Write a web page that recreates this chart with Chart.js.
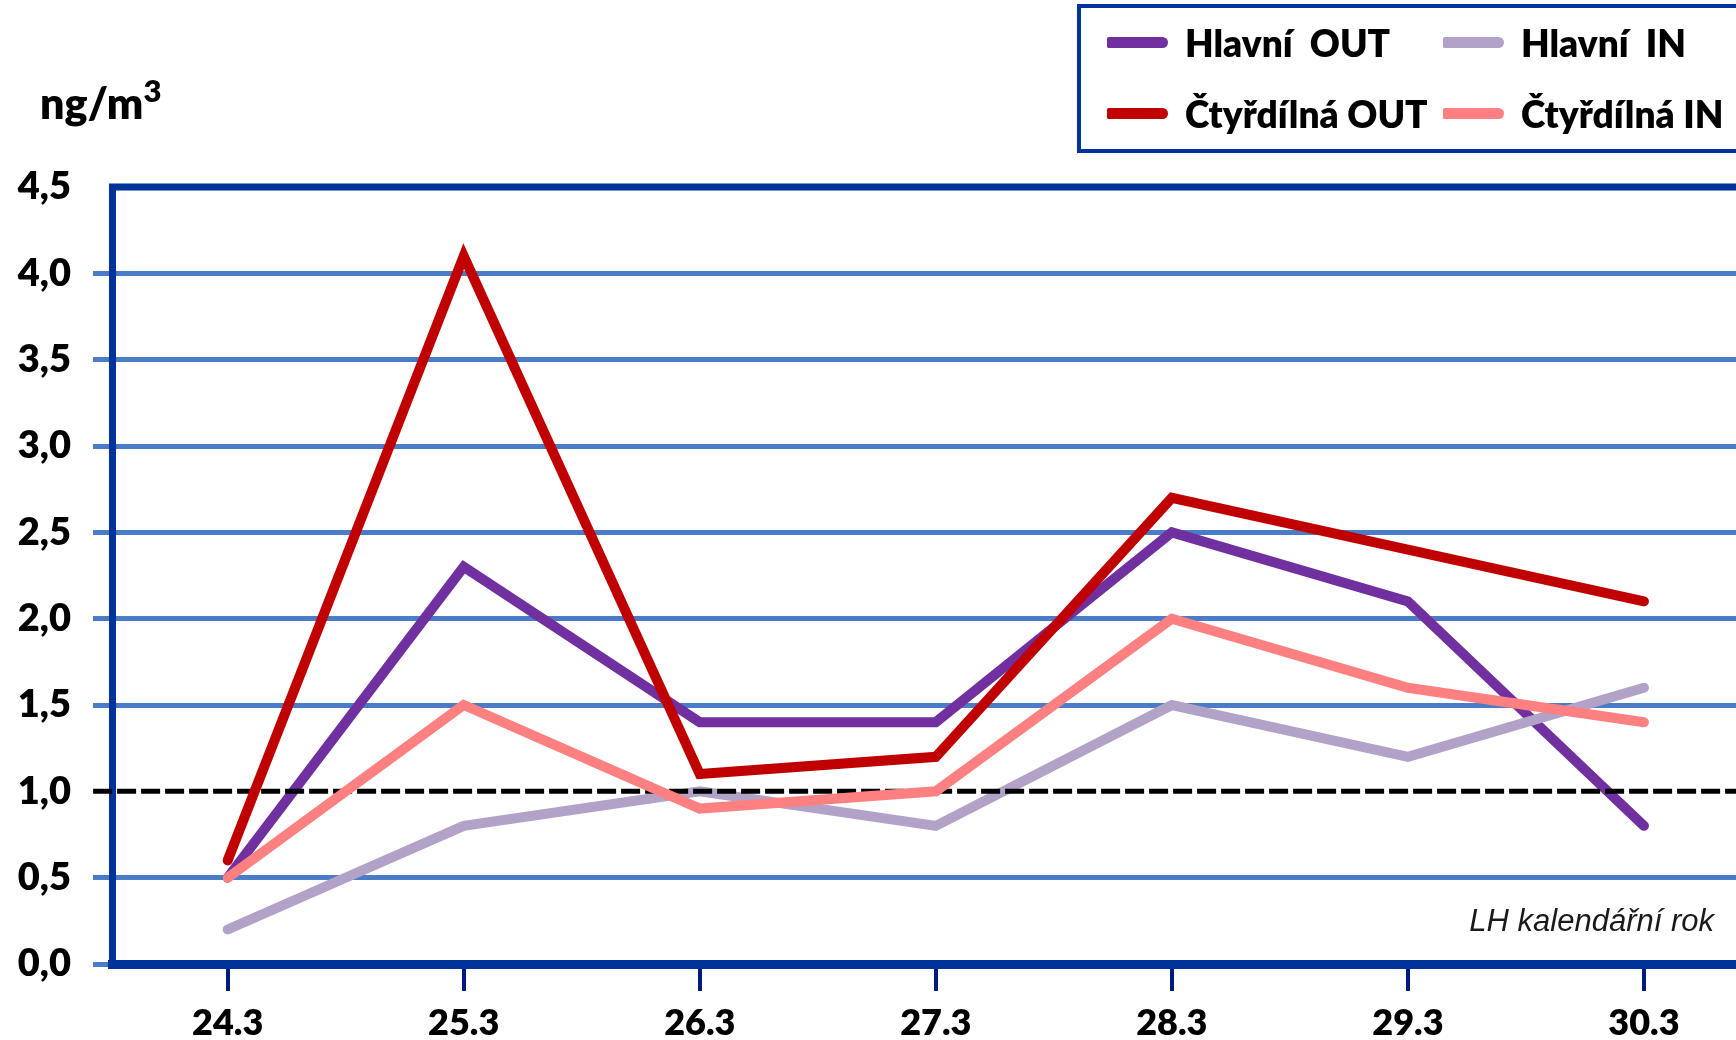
<!DOCTYPE html>
<html>
<head>
<meta charset="utf-8">
<script src="https://cdn.jsdelivr.net/npm/chart.js@4/dist/chart.umd.min.js"></script>
<style>
  html, body { margin: 0; padding: 0; background: #fff; overflow: hidden; }
  #wrap { position: relative; width: 1736px; height: 1040px; }
  #chart { position: absolute; left: 0; top: 0; }
  .unit { position: absolute; left: 40px; top: 83px; font: 800 43px Lato; color: #000; line-height: 40px; }
  .unit sup { font-size: 31px; position: relative; top: -2px; line-height: 0; }
  #legendBox { position: absolute; left: 1077px; top: 4px; width: 700px; height: 149px;
               border: 4px solid #003399; box-sizing: border-box; }
  .item { position: absolute; height: 50px; line-height: 50px; white-space: pre;
          font: 800 37px Lato; color: #000; display: flex; align-items: center; }
  .swatch { width: 61px; height: 11px; border-radius: 2px 6px 6px 2px; margin-right: 17px; }
  .note { position: absolute; right: 22px; top: 903px; font: italic 31px 'Liberation Sans'; color: #1a1a1a; }
</style>
</head>
<body>
<div id="wrap">
  <canvas id="chart" width="1736" height="1040"></canvas>
  <div class="unit">ng/m<sup>3</sup></div>
  <div id="legendBox"></div>
  <div class="note">LH kalendářní rok</div>
</div>
<script>
// ── DATA ──
const DAYS        = ['24.3', '25.3', '26.3', '27.3', '28.3', '29.3', '30.3'];
const HLAVNI_OUT  = [0.5, 2.3, 1.4, 1.4, 2.5, 2.1, 0.8];
const HLAVNI_IN   = [0.2, 0.8, 1.0, 0.8, 1.5, 1.2, 1.6];
const CTYR_OUT    = [0.6, 4.1, 1.1, 1.2, 2.7, 2.4, 2.1];
const CTYR_IN     = [0.5, 1.5, 0.9, 1.0, 2.0, 1.6, 1.4];
const LIMIT       = 1.0;
const Y_MAX       = 4.5;
const Y_STEP      = 0.5;

const FONT = 'Lato';

// legend order = reading order; `order` = draw order (lower is on top)
const SERIES = [
  { label: 'Hlavní  OUT',    data: HLAVNI_OUT, color: '#7030a0', order: 5, pos: [1107, 42]  },
  { label: 'Hlavní  IN',     data: HLAVNI_IN,  color: '#b3a2c7', order: 4, pos: [1443, 42]  },
  { label: 'Čtyřdílná OUT',  data: CTYR_OUT,   color: '#c00000', order: 2, pos: [1107, 113] },
  { label: 'Čtyřdílná IN',   data: CTYR_IN,    color: '#ff8080', order: 1, pos: [1443, 113] },
];

// ── LEGEND (html) ──
const wrap = document.getElementById('wrap');
SERIES.forEach(s => {
  const item = document.createElement('div');
  item.className = 'item';
  item.style.left = s.pos[0] + 'px';
  item.style.top  = (s.pos[1] - 25) + 'px';
  const sw = document.createElement('div');
  sw.className = 'swatch';
  sw.style.background = s.color;
  item.appendChild(sw);
  item.appendChild(document.createTextNode(s.label));
  wrap.appendChild(item);
});

// ── FRAME (top border) ──
const framePlugin = {
  id: 'frame',
  beforeDatasetsDraw(chart) {
    const { ctx, chartArea } = chart;
    ctx.save();
    ctx.strokeStyle = '#003399';
    ctx.lineWidth = 7;
    ctx.beginPath();
    ctx.moveTo(chartArea.left - 3, chartArea.top);
    ctx.lineTo(chartArea.right, chartArea.top);
    ctx.stroke();
    ctx.restore();
  },
};

const datasets = SERIES.map(s => ({
  label: s.label,
  data: s.data.map((v, i) => ({ x: i, y: v })),
  borderColor: s.color,
  borderWidth: 10,
  borderCapStyle: 'round',
  borderJoinStyle: 'miter',
  pointRadius: 0,
  tension: 0,
  order: s.order,
}));

datasets.push({
  label: 'LH',
  data: [{ x: -0.57, y: LIMIT }, { x: 6.4, y: LIMIT }],
  borderColor: '#000',
  borderWidth: 5,
  borderDash: [19, 5],
  pointRadius: 0,
  clip: false,
  order: 3,
});

// gridlines hidden under the frame top and under the limit line
const hiddenGrid = v => v === Y_MAX || v === LIMIT;

new Chart(document.getElementById('chart'), {
  type: 'line',
  data: { datasets },
  options: {
    responsive: false,
    animation: false,
    devicePixelRatio: 1,
    layout: { padding: { top: 187, left: 0, right: 0, bottom: 0 } },
    plugins: { legend: { display: false }, tooltip: { enabled: false } },
    scales: {
      x: {
        type: 'linear',
        min: -0.49,
        max: 6.39,
        afterBuildTicks: s => { s.ticks = DAYS.map((_, i) => ({ value: i })); },
        afterFit: s => { s.height = 76; },
        ticks: {
          callback: v => DAYS[v],
          color: '#000',
          font: { family: FONT, weight: 800, size: 36 },
          padding: 11,
          maxRotation: 0,
          autoSkip: false,
        },
        grid: { drawOnChartArea: false, drawTicks: true, tickLength: 27, color: '#001a80', lineWidth: 4 },
        border: { color: '#003399', width: 9 },
      },
      y: {
        min: 0,
        max: Y_MAX,
        afterFit: s => { s.width = 112; },
        ticks: {
          stepSize: Y_STEP,
          callback: v => v.toFixed(1).replace('.', ','),
          color: '#000',
          font: { family: FONT, weight: 800, size: 38 },
          padding: 22,
        },
        grid: {
          color: c => (c.tick && hiddenGrid(c.tick.value)) ? 'rgba(0,0,0,0)' : '#4a7cc8',
          lineWidth: 5,
          tickLength: 19,
        },
        border: { color: '#003399', width: 7 },
      },
    },
  },
  plugins: [framePlugin],
});
</script>
</body>
</html>
